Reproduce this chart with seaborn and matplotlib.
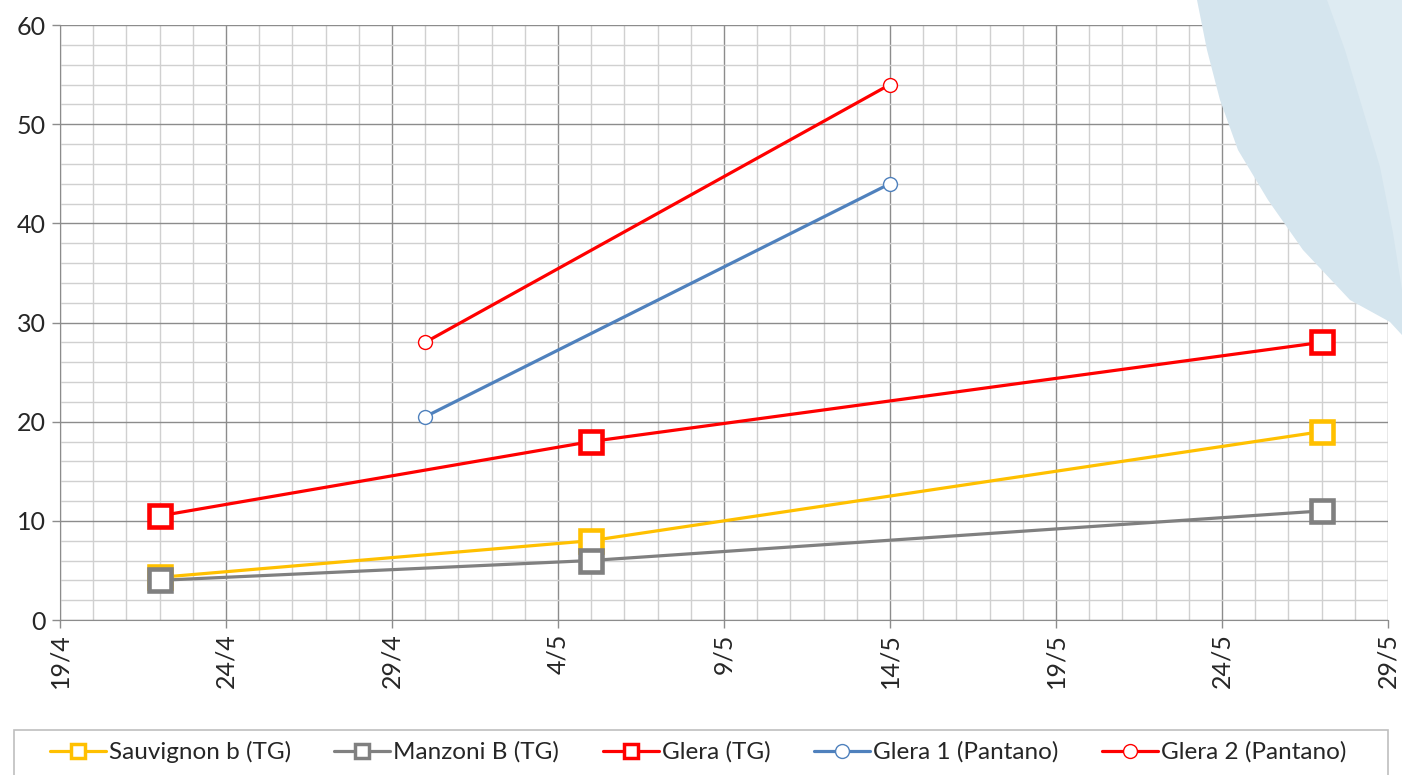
import pandas as pd
import matplotlib.pyplot as plt
import matplotlib.dates as mdates
import matplotlib.ticker as mticker
from matplotlib.patches import Polygon, Rectangle
from matplotlib.lines import Line2D
import seaborn as sns

# Data
series_names = ['Sauvignon b (TG)', 'Manzoni B (TG)', 'Glera (TG)',
                'Glera 1 (Pantano)', 'Glera 2 (Pantano)']
tg_dates = ['2019-04-22', '2019-05-05', '2019-05-27']
pantano_dates = ['2019-04-30', '2019-05-14']
sauvignon = [4.3, 8, 19]
manzoni = [4, 6, 11]
glera_tg = [10.5, 18, 28]
glera1 = [20.5, 44]
glera2 = [28, 54]

colors = ['#FFC000', '#808080', '#FF0000', '#4F81BD', '#FF0000']

rows = []
for name, dates, vals in zip(series_names,
                             [tg_dates, tg_dates, tg_dates, pantano_dates, pantano_dates],
                             [sauvignon, manzoni, glera_tg, glera1, glera2]):
    for d, v in zip(dates, vals):
        rows.append({'date': pd.Timestamp(d), 'value': v, 'series': name})
df = pd.DataFrame(rows)

sns.set_style('white')
plt.rcParams['font.family'] = ['Lato', 'DejaVu Sans']

fig = plt.figure(figsize=(14.02, 7.75), dpi=100)

# decorative background shape in top-right corner (pixel coords)
W, H = 1402, 775
def fp(x, y):
    return (x / W, 1 - y / H)
shape = Polygon([fp(1197, 0), fp(1207, 50), fp(1220, 100), fp(1238, 150),
                 fp(1268, 200), fp(1303, 250), fp(1350, 300), fp(1390, 322),
                 fp(1402, 335), fp(1402, 0)],
                closed=True, transform=fig.transFigure, facecolor='#D5E5EE',
                edgecolor='none', zorder=0)
fig.patches.append(shape)
shape2 = Polygon([fp(1327, 0), fp(1345, 50), fp(1360, 100), fp(1380, 167),
                  fp(1393, 233), fp(1402, 290), fp(1402, 0)],
                 closed=True, transform=fig.transFigure, facecolor='#DEEBF2',
                 edgecolor='none', zorder=0)
fig.patches.append(shape2)

ax = fig.add_axes([60 / W, 1 - 620 / H, (1388 - 60) / W, (620 - 25) / H])
ax.patch.set_alpha(0)

handles = []
for name, col in zip(series_names, colors):
    sub = df[df['series'] == name]
    if 'TG' in name:
        kw = dict(marker='s', markersize=16, markeredgewidth=3.3)
        hk = dict(marker='s', markersize=10, markeredgewidth=2.5)
    else:
        kw = dict(marker='o', markersize=10, markeredgewidth=1.0)
        hk = dict(marker='o', markersize=10, markeredgewidth=1.0)
    sns.lineplot(data=sub, x='date', y='value', ax=ax, color=col, linewidth=2.3,
                 markerfacecolor='white', markeredgecolor=col,
                 zorder=3, clip_on=False, **kw)
    handles.append(Line2D([], [], color=col, linewidth=2.3, markerfacecolor='white',
                          markeredgecolor=col, **hk))

start = pd.Timestamp('2019-04-19')
end = pd.Timestamp('2019-05-29')
ax.set_xlim(start, end)
ax.set_ylim(0, 60)

major_dates = pd.date_range(start, end, freq='5D')
ax.xaxis.set_major_locator(mticker.FixedLocator(mdates.date2num(major_dates)))
ax.xaxis.set_minor_locator(mdates.DayLocator())
ax.xaxis.set_major_formatter(mticker.FuncFormatter(
    lambda v, p: f"{mdates.num2date(v).day}/{mdates.num2date(v).month}"))
ax.yaxis.set_major_locator(mticker.MultipleLocator(10))
ax.yaxis.set_minor_locator(mticker.MultipleLocator(2))

ax.grid(which='major', color='#8C8C8C', linewidth=1.0, zorder=1)
ax.grid(which='minor', color='#D0D0D0', linewidth=1.0, zorder=1)
ax.set_axisbelow(True)

for side in ['top', 'right']:
    ax.spines[side].set_visible(False)
ax.spines['left'].set_color('#8C8C8C')
ax.spines['bottom'].set_color('#8C8C8C')

ax.tick_params(axis='both', which='major', labelsize=18, length=6,
               color='#8C8C8C', width=1, direction='out')
ax.tick_params(axis='both', which='minor', length=0)
ax.tick_params(axis='y', pad=4)
ax.tick_params(left=True, bottom=True)
for lab in ax.get_xticklabels():
    lab.set_rotation(90)
    lab.set_va('top')
    lab.set_ha('center')
ax.set_xlabel('')
ax.set_ylabel('')

# legend box (frame drawn separately so it spans the full width)
frame = Rectangle(fp(14, 790), (1388 - 14) / W, 60 / H, transform=fig.transFigure,
                  facecolor='white', edgecolor='#BFBFBF', linewidth=1.2, zorder=2)
fig.patches.append(frame)
leg = fig.legend(handles, series_names, loc='center', ncol=5,
                 bbox_to_anchor=fp(698, 752), fontsize=17.5, frameon=False,
                 handlelength=2.3, handletextpad=0.12, columnspacing=1.8)

fig.savefig('out.png', dpi=100)
